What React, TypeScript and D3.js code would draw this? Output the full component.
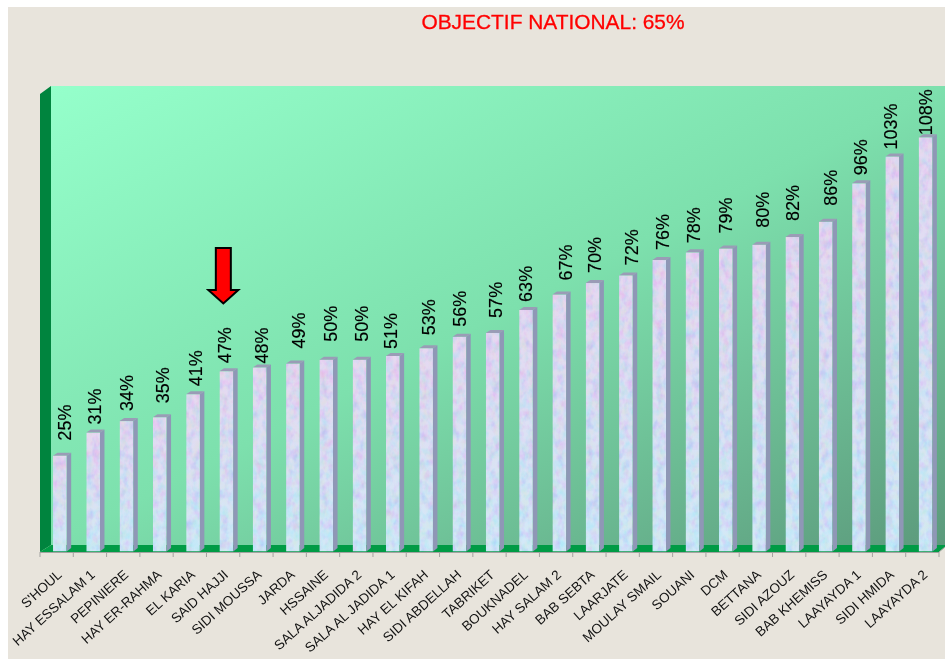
import React from "react";
import * as d3 from "d3";

const categories = ["S'HOUL","HAY ESSALAM 1","PEPINIERE","HAY ER-RAHMA","EL KARIA","SAID HAJJI","SIDI MOUSSA","JARDA","HSSAINE","SALA ALJADIDA 2","SALA AL JADIDA 1","HAY EL KIFAH","SIDI ABDELLAH","TABRIKET","BOUKNADEL","HAY SALAM 2","BAB SEBTA","LAARJATE","MOULAY SMAIL","SOUANI","DCM","BETTANA","SIDI AZOUZ","BAB KHEMISS","LAAYAYDA 1","SIDI HMIDA","LAAYAYDA 2"];
const values = [25,31,34,35,41,47,48,49,50,50,51,53,56,57,63,67,70,72,76,78,79,80,82,86,96,103,108];
// hand-placed data label nudges seen in the reference (px): sideways from bar centre, and gap above bar top
const labelNudge = [5,1,0,3,2,-2,2,6,4,2,-2,2,0,3,0,6,2,6,3,1,0,3,0,5,2,-2,0];
const labelGap = [15,8,10,14,8,8,4,15,18,18,7,13,10,15,8,14,10,10,10,9,15,17,16,16,8,7,2];
const title = "OBJECTIF NATIONAL: 65%";
const markedCategory = "SAID HAJJI";

const W = 945, H = 659;
const left = 40, right = 939, base = 552, top = 94, dx = 11, dy = 7;
const font = "'Liberation Sans', Arial, sans-serif";

export default function App() {
  const x = d3.scaleBand<string>().domain(categories).range([left, right]);
  const y = d3.scaleLinear().domain([0, 120]).range([base - 0.5, 91.3]);
  const bw = x.bandwidth() * 0.41;
  const barX = (c: string) => (x(c) as number) + (x.bandwidth() - bw) / 2 + 3.2;
  const depthX = 4.5, depthY = 3;
  const ax = barX(markedCategory) + bw / 2 - 3;

  return (
    <svg width={W} height={H} style={{ position: "absolute", left: 0, top: 0, display: "block" }}>
      <defs>
        <linearGradient id="wall" x1="0" y1="0" x2="1" y2="1">
          <stop offset="0" stopColor="#95ffcb" />
          <stop offset="0.5" stopColor="#7de0ad" />
          <stop offset="1" stopColor="#5c9a7c" />
        </linearGradient>
        <linearGradient id="barFill" x1="0" y1="0" x2="0" y2="1">
          <stop offset="0" stopColor="#e0d0ee" />
          <stop offset="1" stopColor="#c8e4f6" />
        </linearGradient>
        <filter id="tex" filterUnits="userSpaceOnUse" x="0" y="0" width={W} height={H} colorInterpolationFilters="sRGB">
          <feTurbulence type="fractalNoise" baseFrequency="0.14 0.1" numOctaves="3" seed="5" result="n" />
          <feColorMatrix in="n" type="matrix" values="1.5 0 0 0 0.1  0 1.4 0 0 0.2  0 0 0.7 0 0.6  0 0 0 0 1" result="c" />
          <feComposite in="SourceGraphic" in2="c" operator="arithmetic" k1="0" k2="0.82" k3="0.18" k4="0" result="m" />
          <feComposite in="m" in2="SourceAlpha" operator="in" />
        </filter>
        <filter id="soft" filterUnits="userSpaceOnUse" x="0" y="0" width={W} height={H} colorInterpolationFilters="sRGB">
          <feGaussianBlur stdDeviation="0.45" />
        </filter>
      </defs>

      <rect x={8} y={7} width={W - 8} height={H - 7} fill="#e8e4dc" />

      <g filter="url(#soft)">
        <text x={553} y={29} textAnchor="middle" fontFamily={font} fontSize={20.9} fill="#ff0000" stroke="#ff0000" strokeWidth={0.3}>{title}</text>

        <rect x={left + dx} y={top - dy - 1} width={W - left - dx} height={base - top + 1} fill="url(#wall)" />
        <polygon points={`${left},${top} ${left + dx},${top - dy - 1} ${left + dx},${base - dy} ${left},${base}`} fill="#00843e" />
        <polygon points={`${left},${base} ${left + dx},${base - dy} ${W},${base - dy} ${W},${base - 5} ${right},${base}`} fill="#009b45" />

        <g stroke="#a3a3a0" strokeWidth={1} fill="none">
          <line x1={left} x2={right} y1={base + 0.5} y2={base + 0.5} />
          {[...categories.map((c) => x(c) as number), right].map((t, i) => (
            <line key={i} x1={t} x2={t} y1={base} y2={base + 5} />
          ))}
          <line x1={right} x2={W} y1={base} y2={base - 5} />
        </g>

        {categories.map((c, i) => {
          const bx = barX(c), by = y(values[i]);
          return (
            <g key={c}>
              <polygon points={`${bx + bw},${by} ${bx + bw + depthX},${by - depthY} ${bx + bw + depthX},${base - 4} ${bx + bw},${base - 0.5}`} fill="#8f97b6" />
              <polygon points={`${bx},${by} ${bx + depthX},${by - depthY} ${bx + bw + depthX},${by - depthY} ${bx + bw},${by}`} fill="#9a9cb6" />
            </g>
          );
        })}
        <g filter="url(#tex)">
          {categories.map((c, i) => (
            <rect key={c} x={barX(c)} y={y(values[i])} width={bw} height={base - 0.5 - y(values[i])} fill="url(#barFill)" />
          ))}
        </g>

        {categories.map((c, i) => {
          const tx = barX(c) + bw / 2 + labelNudge[i] + 6.5, ty = y(values[i]) - labelGap[i];
          return (
            <text key={c} transform={`translate(${tx},${ty}) rotate(-90)`} fontFamily={font} fontSize={18} fill="#000" stroke="#000" strokeWidth={0.15}>
              {values[i]}%
            </text>
          );
        })}

        {categories.map((c) => (
          <text
            key={c}
            transform={`translate(${(x(c) as number) + x.bandwidth() / 2 + 6},${base + 24}) rotate(-42)`}
            textAnchor="end"
            fontFamily={font}
            fontSize={13.5}
            fill="#111"
          >
            {c}
          </text>
        ))}

        <path
          d={d3.line()([
            [ax - 7.5, 248], [ax + 7.5, 248], [ax + 7.5, 290], [ax + 15, 290],
            [ax, 303.5], [ax - 15, 290], [ax - 7.5, 290], [ax - 7.5, 248],
          ]) + "Z"}
          fill="#ff0000"
          stroke="#000"
          strokeWidth={2}
        />
      </g>
    </svg>
  );
}
